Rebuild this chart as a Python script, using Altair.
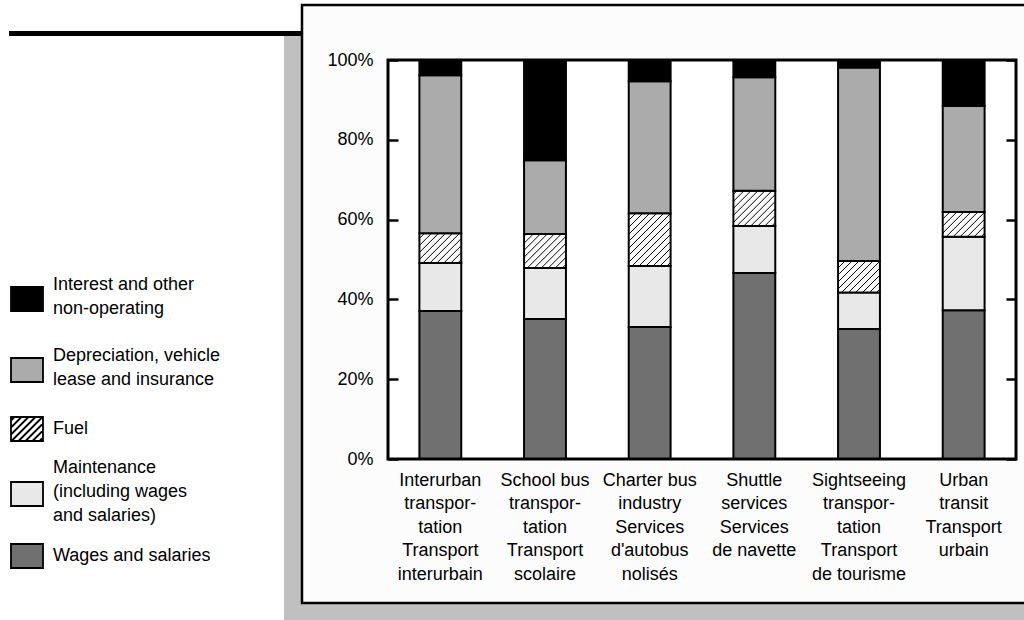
import altair as alt
import numpy as np
import pandas as pd

# Bus industry segments (x-axis labels, "|" marks a line break)
categories = [
    "Interurban|transpor-|tation|Transport|interurbain",
    "School bus|transpor-|tation|Transport|scolaire",
    "Charter bus|industry|Services|d'autobus|nolisés",
    "Shuttle|services|Services|de navette",
    "Sightseeing|transpor-|tation|Transport|de tourisme",
    "Urban|transit|Transport|urbain",
]

# Expense components, listed top of the stack first
components = [
    "Interest and other|non-operating",
    "Depreciation, vehicle|lease and insurance",
    "Fuel",
    "Maintenance|(including wages|and salaries)",
    "Wages and salaries",
]

# Share of total expenses (%) per segment
wages = [37.1, 35.1, 33.1, 46.6, 32.6, 37.3]
maintenance = [12.0, 12.8, 15.3, 11.8, 9.1, 18.4]
fuel = [7.5, 8.5, 13.2, 8.8, 7.9, 6.2]
depreciation = [39.6, 18.5, 33.1, 28.5, 48.5, 26.6]
interest = [3.8, 25.1, 5.3, 4.3, 1.9, 11.5]

y_ticks = [0, 20, 40, 60, 80, 100]
fills = ["#000000", "#ababab", "#ffffff", "#e8e8e8", "#707070"]

W, H = 628, 399
FONT = "Liberation Sans"
FONT_SIZE = 18
BAR_FRAC = 0.4          # bar width as a share of the category step
HATCH_STEP = 7          # px between hatch lines
LABEL_LINE = 24         # legend label line height, px

series = {
    components[4]: wages,
    components[3]: maintenance,
    components[2]: fuel,
    components[1]: depreciation,
    components[0]: interest,
}

rows = []
for stack_pos, (comp, vals) in enumerate(series.items()):
    for cat, v in zip(categories, vals):
        rows.append({"category": cat, "component": comp, "value": v, "stack": stack_pos})
df = pd.DataFrame(rows)

# Diagonal hatch strokes across each fuel segment, in data units
sx, sy = W / len(categories), H / 100.0
hatch = []
for i in range(len(categories)):
    base = wages[i] + maintenance[i]
    w_px = BAR_FRAC * sx
    h_px = fuel[i] * sy
    for c in np.arange(-w_px + HATCH_STEP / 2, h_px, HATCH_STEP):
        u1, u2 = max(0.0, -c), min(w_px, h_px - c)
        if u2 <= u1:
            continue
        x0 = i + (1 - BAR_FRAC) / 2
        hatch.append({
            "x1": x0 + u1 / sx, "x2": x0 + u2 / sx,
            "y1": base + (u1 + c) / sy, "y2": base + (u2 + c) / sy,
        })
hatch_df = pd.DataFrame(hatch)


# Legend symbols: 32x24 boxes (path units of 16 px), moved down so that
# each box sits beside the middle of its multi-line label. A bare moveTo
# widens an entry's bounds to space the legend rows.
def box_path(n_lines, hatched=False, reach=None):
    dy = ((n_lines - 1) * LABEL_LINE / 2 + (2 if n_lines > 1 else 0)) / 16.0
    top, bot = -0.75 + dy, 0.75 + dy
    p = f"M-1,{top:.3f}H1V{bot:.3f}H-1Z"
    if hatched:
        step = HATCH_STEP / 16.0
        for c in np.arange(-1.75 + step / 2, 1.75, step):
            a, b = max(-1.0, c - 0.75), min(1.0, c + 0.75)
            if b > a:
                p += f"M{a:.3f},{c - a + dy:.3f}L{b:.3f},{c - b + dy:.3f}"
    if reach is not None:
        p += f"M0,{reach / 16.0:.4f}"
    return p


row_reach = [44, None, -30, None, -21]   # px from the first label line
shapes = [
    box_path(len(c.split("|")), hatched=(c == "Fuel"), reach=r)
    for c, r in zip(components, row_reach)
]

legend = alt.Legend(
    title=None, orient="none", legendX=-378, legendY=208,
    labelExpr="split(datum.label, '|')", labelFont=FONT, labelFontSize=FONT_SIZE,
    labelColor="black", labelOffset=9, labelLimit=300,
    symbolSize=1024, symbolStrokeColor="black", symbolStrokeWidth=1.8,
    symbolOpacity=1, rowPadding=6, padding=0, zindex=1,
)
fill_enc = alt.Fill("component:N", scale=alt.Scale(domain=components, range=fills), legend=legend)
shape_enc = alt.Shape("component:N", scale=alt.Scale(domain=components, range=shapes), legend=legend)
stroke_enc = alt.Stroke("component:N", scale=alt.Scale(domain=components, range=["black"] * 5),
                        legend=legend)

one = alt.Data(values=[{}])

shadow = alt.Chart(one).mark_rect(color="#c0c0c0").encode(
    x=alt.value(-104), x2=alt.value(W + 60), y=alt.value(-24), y2=alt.value(H + 220))
frame = alt.Chart(one).mark_rect(fill="#fcfcfc", stroke="black", strokeWidth=2.5).encode(
    x=alt.value(-86), x2=alt.value(W + 60), y=alt.value(-55), y2=alt.value(543))
top_bar = alt.Chart(one).mark_rule(color="black", strokeWidth=5).encode(
    x=alt.value(-379), x2=alt.value(-86), y=alt.value(-26.5))
plot_bg = alt.Chart(one).mark_rect(fill="white").encode(
    x=alt.value(0), x2=alt.value(W), y=alt.value(0), y2=alt.value(H))
border = alt.Chart(one).mark_rect(fillOpacity=0, stroke="black", strokeWidth=3).encode(
    x=alt.value(0), x2=alt.value(W), y=alt.value(0), y2=alt.value(H))

bars = alt.Chart(df).mark_bar(stroke="black", strokeWidth=2).encode(
    x=alt.X("category:N", sort=categories,
            scale=alt.Scale(paddingInner=1 - BAR_FRAC, paddingOuter=(1 - BAR_FRAC) / 2),
            axis=alt.Axis(title=None, orient="bottom", labelExpr="split(datum.label, '|')",
                          labelAngle=0, ticks=False, tickSize=0, domain=False,
                          labelPadding=12, labelLineHeight=23.6, labelFont=FONT,
                          labelFontSize=FONT_SIZE, labelColor="black", labelLimit=300,
                          labelBaseline="top", zindex=1)),
    y=alt.Y("value:Q", stack="zero", scale=alt.Scale(domain=[0, 100], nice=False),
            axis=alt.Axis(title=None, orient="left", offset=-10, tickSize=10, tickWidth=2.5,
                          tickColor="black", domain=False, grid=False, values=y_ticks,
                          labelExpr="datum.value + '%'", labelPadding=15, labelFont=FONT,
                          labelFontSize=FONT_SIZE, labelColor="black", zindex=1)),
    fill=fill_enc,
    order=alt.Order("stack:Q"),
)

hatch_layer = alt.Chart(hatch_df).mark_rule(color="black", strokeWidth=1).encode(
    x=alt.X("x1:Q", scale=alt.Scale(domain=[0, len(categories)], nice=False, zero=False), axis=None),
    x2="x2:Q",
    y=alt.Y("y1:Q", scale=alt.Scale(domain=[0, 100], nice=False),
            axis=alt.Axis(title=None, orient="right", offset=-10, tickSize=10, tickWidth=2.5,
                          tickColor="black", domain=False, grid=False, labels=False,
                          values=y_ticks, zindex=1)),
    y2="y2:Q",
)

legend_layer = alt.Chart(df).transform_filter("false").mark_point(
    filled=True, opacity=1, strokeWidth=1.8
).encode(fill=fill_enc, shape=shape_enc, stroke=stroke_enc)

chart = alt.layer(
    shadow, frame, top_bar, plot_bg, bars, hatch_layer, border, legend_layer
).resolve_scale(x="independent", y="independent").properties(
    width=W, height=H,
    padding={"left": 388, "top": 60, "right": 8, "bottom": 161},
    autosize=alt.AutoSizeParams(type="none"),
    background="white",
).configure(
    font=FONT,
    style={"guide-label": {"lineHeight": LABEL_LINE}},
).configure_view(strokeWidth=0)

chart.save("out.html", embed_options={"renderer": "svg", "actions": False})
